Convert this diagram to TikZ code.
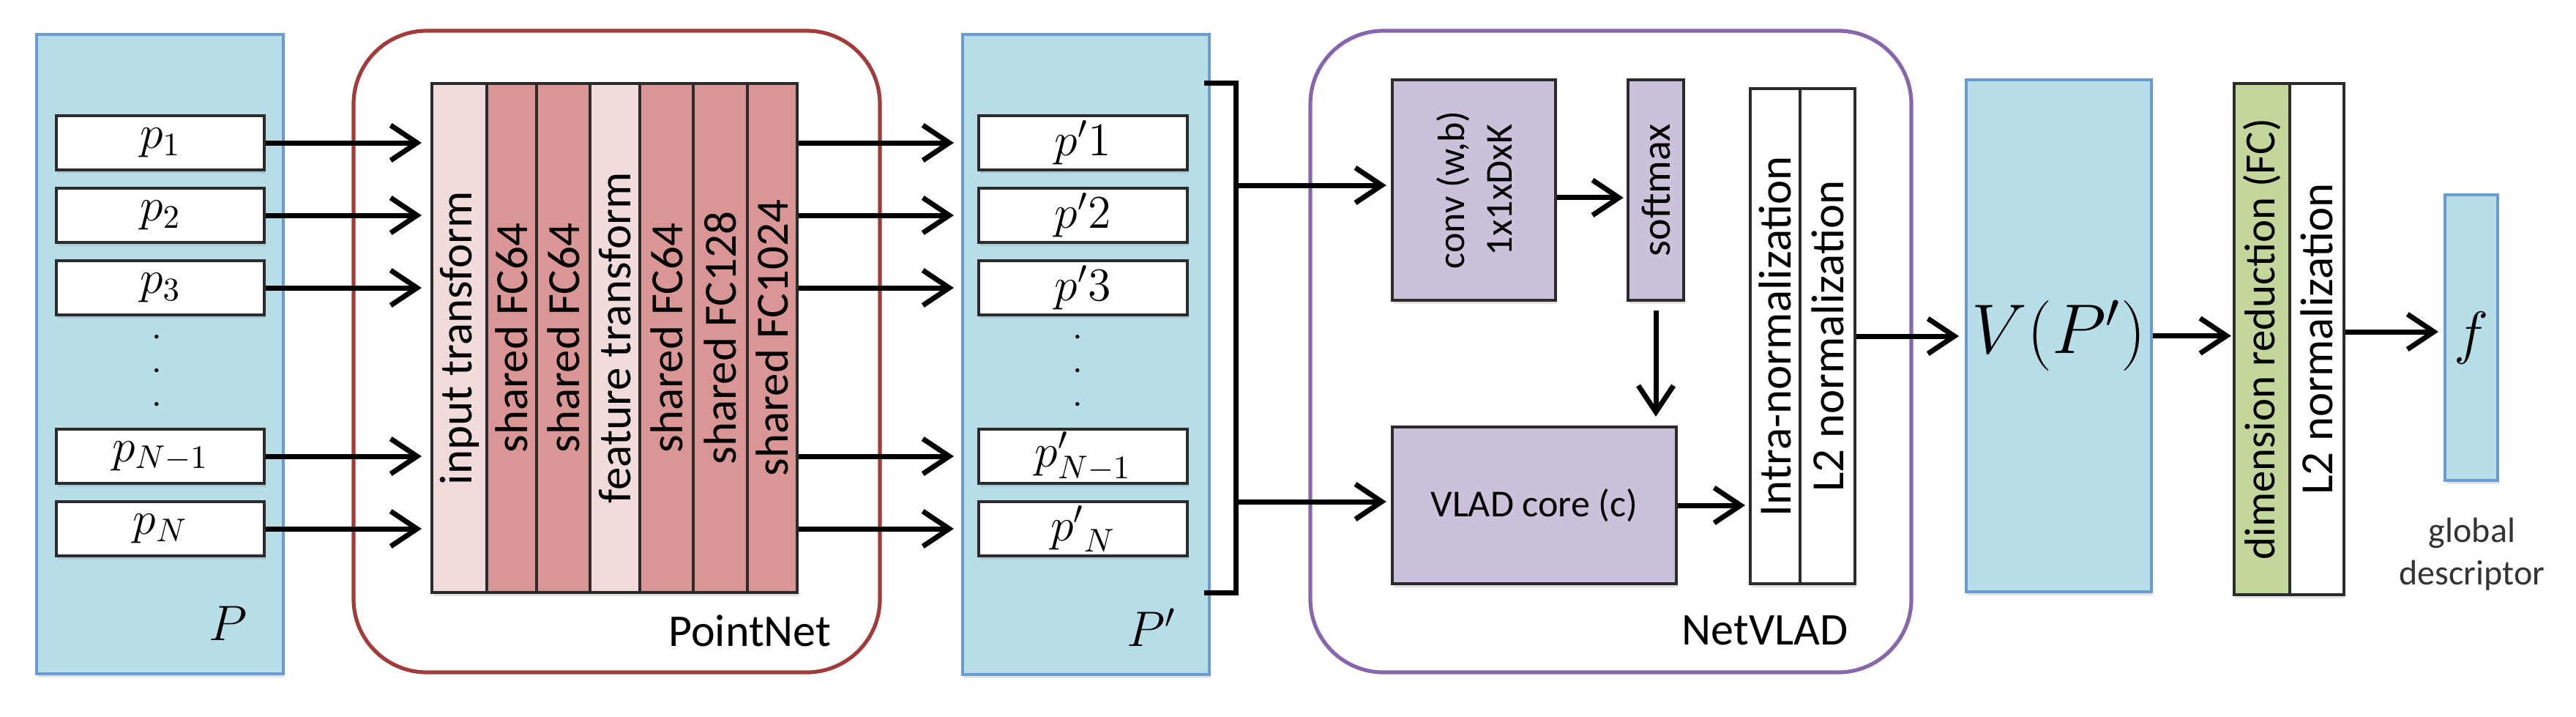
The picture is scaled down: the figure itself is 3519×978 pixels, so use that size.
\RequirePackage{fix-cm}
\documentclass[tikz,border=0pt]{standalone}
\usepackage[no-math]{fontspec}
\setmainfont{Carlito}
\usetikzlibrary{arrows.meta,shadows,calc}
\definecolor{lblue}{HTML}{B7DDE8}
\definecolor{bblue}{HTML}{6A9BD1}
\definecolor{pnred}{HTML}{A33B3A}
\definecolor{nvpurple}{HTML}{8766AE}
\definecolor{lpink}{HTML}{F2DCDB}
\definecolor{dpink}{HTML}{D99694}
\definecolor{lpurple}{HTML}{CCC1DA}
\definecolor{lgreen}{HTML}{C3D69B}
\definecolor{bord}{HTML}{2B2B2B}
\definecolor{gtext}{HTML}{333333}
\newcommand{\mydots}{\vbox{\baselineskip=11.5pt\lineskiplimit=-20pt\hbox{.}\hbox{.}\hbox{.}}}
\tikzset{
  shad/.style={drop shadow={shadow xshift=0.5pt,shadow yshift=-1.3pt,opacity=0.22}},
  bluebox/.style={rectangle, draw=bblue, fill=lblue, line width=1pt, inner sep=0pt, shad},
  pbox/.style={rectangle, draw=bord, fill=white, line width=1.1pt, inner sep=0pt,
    minimum height=18.5pt, font=\fontsize{16}{18}\selectfont, shad},
  group/.style={rectangle, rounded corners=25pt, line width=1.3pt, fill=white, inner sep=0pt,
    minimum height=219pt},
  outline/.style={rectangle, draw=bord, line width=1.1pt, inner sep=0pt, shad},
  colbox/.style={rectangle, draw=bord, line width=1pt, inner sep=0pt},
  rtext/.style={rotate=90, inner sep=0pt, font=\fontsize{15.75}{18}\selectfont},
  arr/.style={-{Straight Barb[length=9pt,width=12pt]}, line width=1.75pt, black},
  grouplabel/.style={anchor=east, inner sep=0pt, font=\fontsize{15.5}{18}\selectfont},
  dotcol/.style={inner sep=0pt, font=\bfseries\fontsize{9}{9}\selectfont},
}
\begin{document}
\begin{tikzpicture}[x=0.25pt,y=-0.25pt]
\fill[white] (0,0) rectangle (3519,978);
\useasboundingbox (0,0) rectangle (3519,978);

% ---------- group frames ----------
\node[group, draw=pnred, minimum width=179.75pt] (pointnet) at (842.5,480) {};
\node[group, draw=nvpurple, minimum width=205.25pt] (netvlad) at (2200.5,480) {};
\node[grouplabel] (pnlabel) at (1136,861) {PointNet};
\node[grouplabel] (nvlabel) at (2525,861) {NetVLAD};

% ---------- input point set P ----------
\node[bluebox, minimum width=84.25pt, minimum height=218.25pt] (Pb) at (218.5,483.5) {};
\node[pbox, minimum width=71pt] (p1) at (219,195) {$p_1$};
\node[pbox, minimum width=71pt] (p2) at (219,294) {$p_2$};
\node[pbox, minimum width=71pt] (p3) at (219,393) {$p_3$};
\node[pbox, minimum width=71pt] (pN1) at (219,623) {$p_{N-1}$};
\node[pbox, minimum width=71pt] (pN) at (219,722) {$p_N$};
\node[dotcol] (pdots) at (214,506) {\mydots};
\node[inner sep=0pt, font=\fontsize{17}{20}\selectfont] (Plabel) at (312,851) {$P$};

% ---------- PointNet layer stack ----------
\node[outline, minimum width=124.75pt, minimum height=173.75pt] (stack) at (839.5,461.5) {};
\node[colbox, fill=lpink, minimum width=18.75pt, minimum height=173.75pt,
  label={[rtext]center:input transform}] (c1) at (627.5,461.5) {};
\node[colbox, fill=dpink, minimum width=17pt, minimum height=173.75pt,
  label={[rtext]center:shared FC64}] (c2) at (699,461.5) {};
\node[colbox, fill=dpink, minimum width=18.25pt, minimum height=173.75pt,
  label={[rtext]center:shared FC64}] (c3) at (769.5,461.5) {};
\node[colbox, fill=lpink, minimum width=17pt, minimum height=173.75pt,
  label={[rtext]center:feature transform}] (c4) at (840,461.5) {};
\node[colbox, fill=dpink, minimum width=18.25pt, minimum height=173.75pt,
  label={[rtext]center:shared FC64}] (c5) at (910.5,461.5) {};
\node[colbox, fill=dpink, minimum width=18.5pt, minimum height=173.75pt,
  label={[rtext]center:shared FC128}] (c6) at (984,461.5) {};
\node[colbox, fill=dpink, minimum width=17pt, minimum height=173.75pt,
  label={[rtext]center:shared FC1024}] (c7) at (1055,461.5) {};

% ---------- output features P' ----------
\node[bluebox, minimum width=84.25pt, minimum height=218.5pt] (Ppb) at (1483.5,484) {};
\node[pbox, minimum width=71.25pt] (pp1) at (1479.5,195) {$p'1$};
\node[pbox, minimum width=71.25pt] (pp2) at (1479.5,294) {$p'2$};
\node[pbox, minimum width=71.25pt] (pp3) at (1479.5,393) {$p'3$};
\node[pbox, minimum width=71.25pt] (ppN1) at (1479.5,623) {$p'_{N-1}$};
\node[pbox, minimum width=71.25pt] (ppN) at (1479.5,722) {${p'}_{N}$};
\node[dotcol] (ppdots) at (1472,506) {\mydots};
\node[inner sep=0pt, font=\fontsize{17}{20}\selectfont] (Pplabel) at (1573,857) {$P'$};

% arrows p -> stack -> p'
\foreach \a/\b in {p1/pp1,p2/pp2,p3/pp3,pN1/ppN1,pN/ppN}{
  \draw[arr, shorten >=3pt] (\a.east) -- (\a.east -| c1.west);
  \draw[arr, shorten >=2.5pt] (\b.west -| c7.east) -- (\b.west -| Ppb.west);
}

% ---------- bracket ----------
\coordinate (brTL) at (1645,113);
\coordinate (brT) at (1688,113);
\coordinate (brB) at (1688,809);
\coordinate (brBL) at (1645,809);
\coordinate (brA) at (1688,253);
\coordinate (brC) at (1688,685);
\draw[line width=1.75pt] (brTL) -- (brT) -- (brB) -- (brBL);

% ---------- NetVLAD internals ----------
\node[rectangle, draw=bord, fill=lpurple, line width=1.1pt, inner sep=0pt, shad,
  minimum width=55.75pt, minimum height=75.25pt,
  label={[rotate=90, align=center, inner sep=0pt, font=\fontsize{13}{16.25}\selectfont]center:conv (w,b)\\1x1xDxK}]
  (conv) at (2013.5,259.5) {};
\node[rectangle, draw=bord, fill=lpurple, line width=1.1pt, inner sep=0pt, shad,
  minimum width=19pt, minimum height=75.25pt,
  label={[rotate=90, inner sep=0pt, font=\fontsize{14}{16}\selectfont]center:softmax}]
  (soft) at (2262,259.5) {};
\node[rectangle, draw=bord, fill=lpurple, line width=1.1pt, inner sep=0pt, shad,
  minimum width=97pt, minimum height=53.5pt, font=\fontsize{13}{16}\selectfont]
  (vlad) at (2096,690) {VLAD core (c)};
\node[outline, minimum width=35.75pt, minimum height=169pt] (norm) at (2462.5,459) {};
\node[colbox, fill=white, minimum width=17pt, minimum height=169pt,
  label={[rtext]center:Intra-normalization}] (n1) at (2425,459) {};
\node[colbox, fill=white, minimum width=18.75pt, minimum height=169pt,
  label={[rtext]center:L2 normalization}] (n2) at (2496.5,459) {};

\draw[arr, shorten >=1.5pt] (brA) -- (brA -| conv.west);
\draw[arr, shorten >=1.5pt] (brC) -- (brC -| vlad.west);
\draw[arr, shorten >=1pt] ([yshift=-2.6pt]conv.east) -- ([yshift=-2.6pt]conv.east -| soft.west);
\draw[arr, shorten <=3pt, shorten >=3pt] (soft.south) -- (soft.south |- vlad.north);
\draw[arr, shorten >=1.2pt] (vlad.east) -- (vlad.east -| norm.west);

% ---------- V(P') ----------
\node[bluebox, minimum width=63.25pt, minimum height=174.75pt, font=\fontsize{24}{28}\selectfont]
  (Vb) at (2812.5,458.5) {$V(P')$};
\draw[arr, shorten >=2pt] (norm.east) -- (norm.east -| Vb.west);

% ---------- dimension reduction + L2 ----------
\node[outline, minimum width=37.5pt, minimum height=174.5pt] (dim) at (3127,463) {};
\node[colbox, fill=lgreen, minimum width=19pt, minimum height=174.5pt,
  label={[rtext, font=\fontsize{14.75}{18}\selectfont]center:dimension reduction (FC)}] (d1) at (3090,463) {};
\node[colbox, fill=white, minimum width=18.5pt, minimum height=174.5pt,
  label={[rtext]center:L2 normalization}] (d2) at (3165,463) {};
\draw[arr, shorten >=0.5pt] (Vb.east) -- (Vb.east -| dim.west);

% ---------- global descriptor f ----------
\node[bluebox, minimum width=18pt, minimum height=97.5pt, font=\fontsize{20}{24}\selectfont]
  (fb) at (3376,461) {$f$};
\draw[arr, shorten >=1.75pt] ([yshift=2.5pt]dim.east) -- ([yshift=2.5pt]dim.east -| fb.west);
\node[align=center, inner sep=0pt, text=gtext, font=\fontsize{12}{14.5}\selectfont]
  (gd) at (3377,757) {global\\descriptor};
\end{tikzpicture}
\end{document}
